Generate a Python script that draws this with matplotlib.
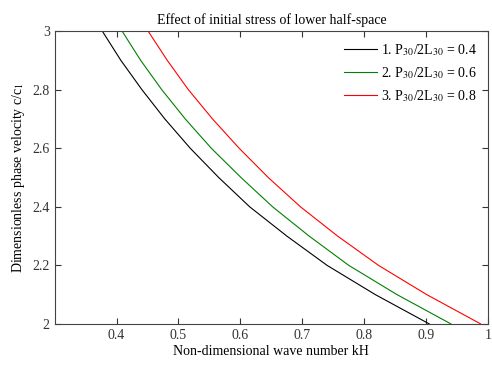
import matplotlib
matplotlib.use("Agg")
import matplotlib.pyplot as plt

plt.rcParams['font.family'] = ['Liberation Serif', 'DejaVu Serif']
plt.rcParams['mathtext.fontset'] = 'stix'

# phase velocity levels
c = [3.0, 2.9, 2.8, 2.7, 2.6, 2.5, 2.4, 2.3, 2.2, 2.1, 2.0]
kh_04 = [0.377, 0.407, 0.441, 0.478, 0.519, 0.565, 0.615, 0.675, 0.740, 0.818, 0.905]
kh_06 = [0.409, 0.439, 0.473, 0.511, 0.553, 0.601, 0.652, 0.711, 0.775, 0.853, 0.940]
kh_08 = [0.451, 0.482, 0.516, 0.555, 0.598, 0.645, 0.697, 0.757, 0.823, 0.901, 0.988]
labels = ['1. P$_{30}$/2L$_{30}$ = 0.4',
          '2. P$_{30}$/2L$_{30}$ = 0.6',
          '3. P$_{30}$/2L$_{30}$ = 0.8']
colors = ['black', 'green', 'red']

fig = plt.figure(figsize=(4.92, 3.66), dpi=100)
ax = fig.add_axes([0.111, 0.115, 0.881, 0.8])
for kh, lab, col in zip([kh_04, kh_06, kh_08], labels, colors):
    ax.plot(kh, c, color=col, lw=0.8, label=lab)

ax.set_xlim(0.3, 1.0)
ax.set_ylim(2, 3)
ax.set_xticks([0.4, 0.5, 0.6, 0.7, 0.8, 0.9, 1.0])
ax.set_xticklabels(['0.4', '0.5', '0.6', '0.7', '0.8', '0.9', '1'])
ax.set_yticks([2, 2.2, 2.4, 2.6, 2.8, 3])
ax.set_yticklabels(['2', '2.2', '2.4', '2.6', '2.8', '3'])
ax.tick_params(direction='in', top=True, right=True, labelsize=10,
               colors='#333333', length=4, width=0.8)
for s in ax.spines.values():
    s.set_color('#444444')
    s.set_linewidth(0.8)

ax.set_title('Effect of initial stress of lower half-space', fontsize=10, pad=5)
ax.set_xlabel('Non-dimensional wave number kH', fontsize=10, labelpad=2)
ax.set_ylabel('Dimensionless phase velocity c/c$_1$', fontsize=10, labelpad=4)
ax.legend(loc='upper right', frameon=False, fontsize=10, handlelength=2.4,
          handletextpad=0.3, borderaxespad=0.4, labelspacing=0.5)

fig.savefig('out.png', dpi=100)
